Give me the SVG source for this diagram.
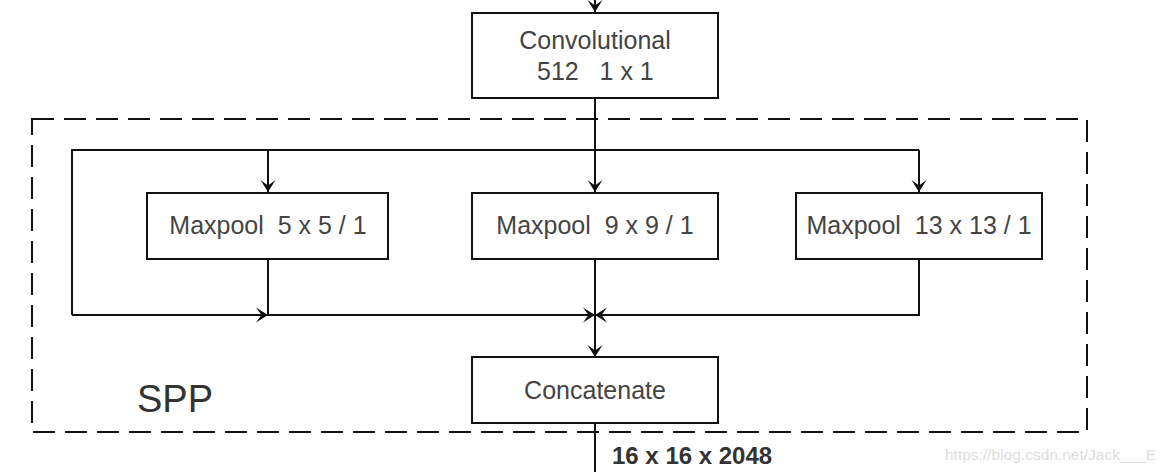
<svg xmlns="http://www.w3.org/2000/svg" width="1169" height="472" viewBox="0 0 1169 472">
<style>
.box{fill:#fff;stroke:#111;stroke-width:2}
.lbl{font-family:"Liberation Sans",Arial,sans-serif;font-size:25px;fill:#444}
.ln{fill:none;stroke:#111;stroke-width:2}
</style>
<defs>
<marker id="ah" markerUnits="userSpaceOnUse" markerWidth="18" markerHeight="18" viewBox="-13 -9 15 18" refX="0" refY="0" orient="auto">
<path d="M0,0 L-12,-7.5 L-6.5,0 L-12,7.5 Z" fill="#111"/>
</marker>
</defs>
<rect width="1169" height="472" fill="#fff"/>
<rect x="32" y="119" width="1055" height="313" fill="none" stroke="#111" stroke-width="2" stroke-dasharray="22,10"/>
<g id="connectors">
<path class="ln" d="M595,0 V12" marker-end="url(#ah)"/>
<path class="ln" d="M595,98 V192" marker-end="url(#ah)"/>
<path class="ln" d="M72,315 V150 H919"/>
<path class="ln" d="M268,150 V192" marker-end="url(#ah)"/>
<path class="ln" d="M919,150 V192" marker-end="url(#ah)"/>
<path class="ln" d="M72,315 H268" marker-end="url(#ah)"/>
<path class="ln" d="M268,259 V315 H595" marker-end="url(#ah)"/>
<path class="ln" d="M919,259 V315 H595" marker-end="url(#ah)"/>
<path class="ln" d="M595,259 V357" marker-end="url(#ah)"/>
<path class="ln" d="M595,423 V472"/>
</g>
<g id="conv">
<rect class="box" x="472" y="13" width="246" height="85"/>
<text class="lbl" x="595" y="49" text-anchor="middle">Convolutional</text>
<text class="lbl" x="537" y="80" xml:space="preserve">512   1 x 1</text>
</g>
<g id="maxpool5">
<rect class="box" x="147" y="193" width="241" height="66"/>
<text class="lbl" x="268" y="234" text-anchor="middle" xml:space="preserve">Maxpool  5 x 5 / 1</text>
</g>
<g id="maxpool9">
<rect class="box" x="472" y="193" width="246" height="66"/>
<text class="lbl" x="595" y="234" text-anchor="middle" xml:space="preserve">Maxpool  9 x 9 / 1</text>
</g>
<g id="maxpool13">
<rect class="box" x="796" y="193" width="246" height="66"/>
<text class="lbl" x="919" y="234" text-anchor="middle" xml:space="preserve">Maxpool  13 x 13 / 1</text>
</g>
<g id="concat">
<rect class="box" x="472" y="357" width="246" height="66"/>
<text class="lbl" x="595" y="399" text-anchor="middle">Concatenate</text>
</g>
<text x="137" y="412" font-family="Liberation Sans,Arial,sans-serif" font-size="38" fill="#333">SPP</text>
<text x="612" y="464" font-family="Liberation Sans,Arial,sans-serif" font-size="24" font-weight="bold" fill="#333">16 x 16 x 2048</text>
<text x="945" y="460" font-family="Liberation Sans,Arial,sans-serif" font-size="15.5" fill="#ddd">https://blog.csdn.net/Jack___E</text>
</svg>
